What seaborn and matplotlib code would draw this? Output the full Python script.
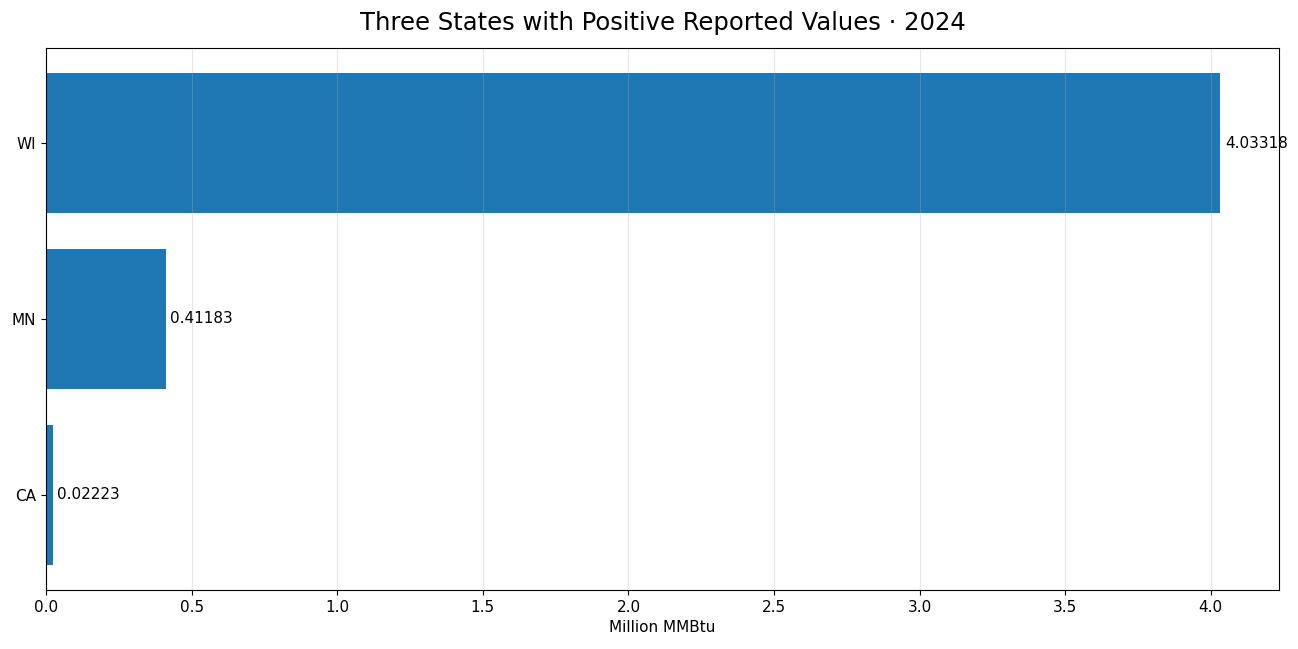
import matplotlib
matplotlib.use("Agg")
import matplotlib.pyplot as plt
import seaborn as sns
import pandas as pd

states = ["WI", "MN", "CA"]
values = [4.03318, 0.41183, 0.02223]
title = "Three States with Positive Reported Values · 2024"

df = pd.DataFrame({"state": states, "value": values})

fig, ax = plt.subplots(figsize=(12.98, 6.49), dpi=100)
sns.barplot(data=df, x="value", y="state", order=states, orient="h",
            color="#1f77b4", saturation=1, width=0.8, ax=ax)

ax.set_ylim(2.54, -0.54)
ax.set_xlim(0, max(values) * 1.05)
ax.grid(axis="x", color="#b0b0b0", alpha=0.3, linewidth=0.8)
ax.set_axisbelow(False)
for sp in ax.spines.values():
    sp.set_zorder(5)
    sp.set_color("black")
ax.set_title(title, fontsize=17.5, pad=13)
ax.set_xlabel("Million MMBtu", fontsize=11)
ax.set_ylabel("")
ax.tick_params(labelsize=11)

for i, v in enumerate(values):
    ax.text(v + 0.015, i, f"{v:.5f}", va="center", ha="left", fontsize=11)

plt.subplots_adjust(left=0.0355, right=0.9855, top=0.926, bottom=0.091)
fig.savefig("out.png", dpi=100)
